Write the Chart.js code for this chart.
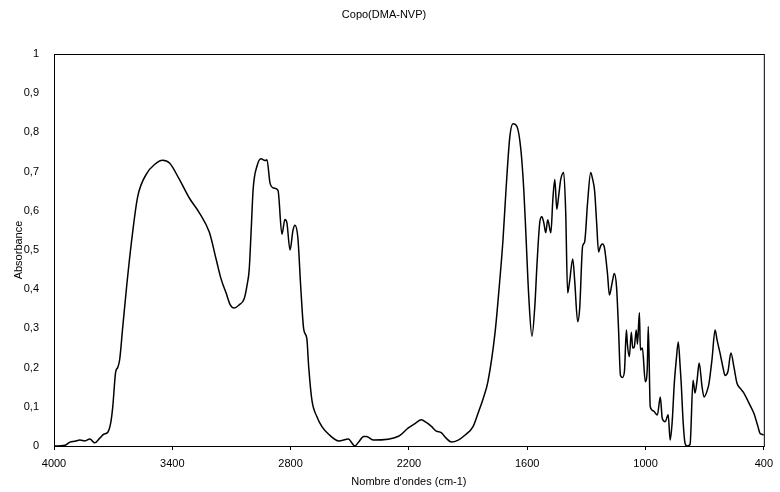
<!DOCTYPE html>
<html>
<head>
<meta charset="utf-8">
<script src="https://cdn.jsdelivr.net/npm/chart.js@4.4.1/dist/chart.umd.min.js"></script>
<style>
  html, body { margin: 0; padding: 0; background: #fff; }
  #wrap { width: 780px; height: 492px; }
</style>
</head>
<body>
<div id="wrap"><canvas id="spectre"></canvas></div>
<script>
// Spectre IR : nombre d'onde (cm-1) et absorbance
const wavenumbers = [
  4000, 3944, 3919, 3894, 3869, 3843, 3818, 3793, 3768, 3748, 3727, 3712, 3702, 3687, 3677, 3667,
  3652, 3631, 3606, 3576, 3530, 3490, 3450, 3414, 3364, 3313, 3263, 3212, 3177, 3152, 3127, 3106,
  3086, 3061, 3036, 3021, 3010, 3000, 2990, 2970, 2950, 2930, 2920, 2904, 2884, 2864, 2844, 2829,
  2819, 2803, 2788, 2778, 2763, 2748, 2733, 2718, 2708, 2692, 2667, 2642, 2607, 2556, 2506, 2490,
  2475, 2455, 2430, 2415, 2379, 2253, 2203, 2167, 2137, 2112, 2086, 2061, 2036, 2011, 1985, 1950,
  1915, 1874, 1849, 1824, 1799, 1763, 1743, 1723, 1708, 1688, 1672, 1652, 1632, 1617, 1607, 1592,
  1576, 1561, 1551, 1536, 1526, 1516, 1506, 1496, 1480, 1470, 1460, 1450, 1440, 1430, 1415, 1405,
  1395, 1385, 1369, 1359, 1344, 1334, 1319, 1309, 1294, 1278, 1268, 1258, 1248, 1238, 1228, 1218,
  1208, 1193, 1183, 1168, 1158, 1147, 1137, 1127, 1117, 1107, 1097, 1092, 1082, 1072, 1065, 1057,
  1047, 1041, 1031, 1026, 1016, 1001, 991, 986, 976, 961, 940, 925, 915, 900, 885, 875,
  865, 854, 844, 834, 824, 819, 809, 799, 789, 774, 759, 749, 738, 728, 713, 703,
  688, 678, 663, 647, 637, 622, 607, 597, 582, 567, 551, 536, 516, 501, 476, 451,
  430, 420, 410, 400
];
const absorbance = [
  0.0, 0.002, 0.01, 0.012, 0.015, 0.013, 0.018, 0.008, 0.02, 0.03, 0.035, 0.06, 0.1, 0.19, 0.2, 0.22,
  0.3, 0.41, 0.525, 0.635, 0.695, 0.718, 0.729, 0.722, 0.68, 0.632, 0.595, 0.545, 0.475, 0.425, 0.39, 0.36,
  0.352, 0.36, 0.375, 0.41, 0.45, 0.55, 0.655, 0.715, 0.733, 0.728, 0.73, 0.67, 0.658, 0.652, 0.54, 0.578,
  0.57, 0.5, 0.55, 0.563, 0.53, 0.4, 0.296, 0.275, 0.2, 0.117, 0.075, 0.05, 0.03, 0.013, 0.018, 0.008,
  0.0, 0.01, 0.024, 0.024, 0.015, 0.025, 0.046, 0.058, 0.067, 0.06, 0.05, 0.038, 0.034, 0.02, 0.01, 0.015,
  0.028, 0.05, 0.084, 0.12, 0.165, 0.29, 0.4, 0.525, 0.65, 0.79, 0.822, 0.815, 0.755, 0.65, 0.544, 0.38,
  0.28, 0.36, 0.458, 0.572, 0.585, 0.57, 0.544, 0.577, 0.544, 0.629, 0.68, 0.604, 0.64, 0.68, 0.698, 0.6,
  0.39, 0.42, 0.477, 0.42, 0.317, 0.35, 0.51, 0.52, 0.62, 0.698, 0.68, 0.65, 0.57, 0.495, 0.51, 0.515,
  0.505, 0.44, 0.385, 0.42, 0.44, 0.406, 0.3, 0.18, 0.175, 0.19, 0.296, 0.26, 0.228, 0.29, 0.25, 0.253,
  0.296, 0.26, 0.34, 0.245, 0.25, 0.164, 0.2, 0.305, 0.1, 0.09, 0.079, 0.125, 0.07, 0.062, 0.08, 0.015,
  0.06, 0.16, 0.22, 0.265, 0.2, 0.16, 0.06, 0.006, 0.0, 0.005, 0.168, 0.135, 0.17, 0.212, 0.15, 0.125,
  0.14, 0.16, 0.22, 0.296, 0.27, 0.237, 0.2, 0.18, 0.19, 0.237, 0.2, 0.16, 0.145, 0.135, 0.11, 0.084,
  0.05, 0.033, 0.03, 0.028
];

// Graduations des axes
const xTicks = [4000, 3400, 2800, 2200, 1600, 1000, 400];
const yTicks = [0, 0.1, 0.2, 0.3, 0.4, 0.5, 0.6, 0.7, 0.8, 0.9, 1];

const points = wavenumbers.map((w, i) => ({ x: w, y: absorbance[i] }));

// Cadre noir autour de la zone de tracé
const framePlugin = {
  id: "frame",
  afterDraw(chart) {
    const { ctx, chartArea } = chart;
    ctx.save();
    ctx.strokeStyle = "#000";
    ctx.lineWidth = 1;
    ctx.strokeRect(chartArea.left + 0.5, chartArea.top + 0.5,
      chartArea.right - chartArea.left, chartArea.bottom - chartArea.top);
    ctx.restore();
  },
};

const fontFamily = "'Liberation Sans', Arial, sans-serif";

new Chart(document.getElementById("spectre"), {
  type: "line",
  data: {
    datasets: [{
      data: points,
      borderColor: "#000",
      borderWidth: 1.5,
      pointRadius: 0,
      cubicInterpolationMode: "monotone", // courbe lissée sans dépassement
      fill: false,
    }],
  },
  options: {
    responsive: true,
    maintainAspectRatio: false,
    animation: false,
    layout: { padding: { left: 0, right: 12, top: 0, bottom: 0 } },
    plugins: {
      legend: { display: false },
      tooltip: { enabled: false },
      title: {
        display: true,
        text: "Copo(DMA-NVP)",
        color: "#000",
        font: { family: fontFamily, size: 11, weight: "normal" },
        padding: { top: 8, bottom: 32.8 },
      },
    },
    scales: {
      x: {
        type: "linear",
        reverse: true,
        min: 400,
        max: 4000,
        afterFit: (scale) => { scale.height = 46; },
        afterBuildTicks: (scale) => { scale.ticks = xTicks.map((v) => ({ value: v })); },
        ticks: {
          color: "#000",
          padding: 7,
          maxRotation: 0,
          font: { family: fontFamily, size: 11 },
          callback: (v) => String(v),
        },
        grid: { drawOnChartArea: false, tickLength: 4, color: "#000" },
        border: { color: "#000", width: 1 },
        title: {
          display: true,
          text: "Nombre d'ondes (cm-1)",
          color: "#000",
          font: { family: fontFamily, size: 11 },
          padding: { top: 0, bottom: 3 },
        },
      },
      y: {
        min: 0,
        max: 1,
        afterFit: (scale) => { scale.width = 54; },
        afterBuildTicks: (scale) => { scale.ticks = yTicks.map((v) => ({ value: v })); },
        ticks: {
          color: "#000",
          padding: 7,
          font: { family: fontFamily, size: 11 },
          callback: (v) => String(Math.round(v * 10) / 10).replace(".", ","),
        },
        grid: { drawOnChartArea: false, tickLength: 8, tickColor: "rgba(0,0,0,0)" },
        border: { color: "#000", width: 1 },
        title: {
          display: true,
          text: "Absorbance",
          color: "#000",
          font: { family: fontFamily, size: 11 },
          padding: { top: 12, bottom: 0 },
        },
      },
    },
  },
  plugins: [framePlugin],
});
</script>
</body>
</html>
